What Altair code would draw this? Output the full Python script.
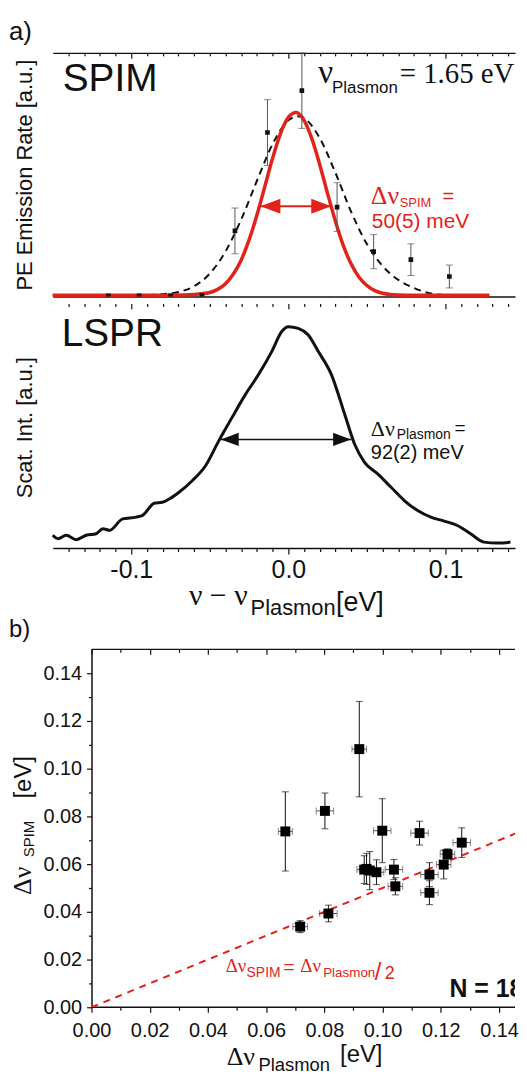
import altair as alt
import pandas as pd

SANS = "Liberation Sans"
SERIF = "Liberation Serif"
RED = "#e2231a"
INK = "#111111"
GREY = "#555555"

# ---------------- panel a : SPIM ----------------
spim_x = [-0.1146, -0.0950, -0.0750, -0.0550, -0.0340, -0.0133, 0.0086, 0.0310, 0.0543, 0.0780, 0.1025]
spim_y = [0.003, 0.003, 0.003, 0.005, 0.269, 0.673, 0.845, 0.367, 0.184, 0.151, 0.082]
spim_err = [0.0, 0.0, 0.0, 0.0, 0.094, 0.135, 0.155, 0.100, 0.070, 0.065, 0.047]

red_x = [-0.150, -0.100, -0.080, -0.070, -0.060, -0.050, -0.045, -0.040, -0.035, -0.030, -0.025,
         -0.020, -0.015, -0.010, -0.005, 0.000, 0.005, 0.010, 0.015, 0.020, 0.025, 0.030, 0.035,
         0.040, 0.045, 0.050, 0.055, 0.060, 0.065, 0.070, 0.080, 0.100, 0.128]
red_y = [0.005, 0.005, 0.005, 0.006, 0.008, 0.016, 0.029, 0.052, 0.092, 0.150, 0.232,
         0.334, 0.451, 0.568, 0.669, 0.735, 0.755, 0.723, 0.647, 0.541, 0.422, 0.308, 0.209,
         0.133, 0.079, 0.045, 0.024, 0.013, 0.008, 0.006, 0.005, 0.005, 0.005]

dash_x = [-0.150, -0.110, -0.090, -0.080, -0.070, -0.060, -0.050, -0.040, -0.030, -0.020, -0.010,
          0.000, 0.006, 0.010, 0.020, 0.030, 0.040, 0.050, 0.060, 0.070, 0.080, 0.090, 0.100, 0.110]
dash_y = [0.005, 0.005, 0.006, 0.009, 0.018, 0.042, 0.094, 0.185, 0.316, 0.475, 0.626,
          0.723, 0.740, 0.732, 0.650, 0.507, 0.347, 0.215, 0.125, 0.068, 0.035, 0.013, 0.006, 0.005]

spim_arrow_x = [-0.0177, 0.0272]
spim_arrow_y = 0.370
spim_head_x = [-0.0114, 0.0209]

# ---------------- panel a : LSPR ----------------
lspr_x = [-0.1500, -0.1466, -0.1414, -0.1350, -0.1287, -0.1224, -0.1181, -0.1139, -0.1055, -0.0970,
          -0.0928, -0.0854, -0.0802, -0.0759, -0.0696, -0.0612, -0.0527, -0.0443, -0.0359, -0.0274,
          -0.0190, -0.0105, -0.0042, 0.0000, 0.0063, 0.0127, 0.0190, 0.0274, 0.0359, 0.0422,
          0.0485, 0.0570, 0.0654, 0.0738, 0.0823, 0.0907, 0.0992, 0.1076, 0.1160, 0.1245,
          0.1329, 0.1414, 0.1473]
lspr_y = [0.052, 0.038, 0.052, 0.034, 0.052, 0.058, 0.079, 0.072, 0.119, 0.126,
          0.133, 0.183, 0.187, 0.200, 0.228, 0.275, 0.336, 0.438, 0.533, 0.627,
          0.709, 0.804, 0.885, 0.905, 0.898, 0.871, 0.804, 0.709, 0.546, 0.424,
          0.350, 0.302, 0.248, 0.194, 0.153, 0.126, 0.110, 0.092, 0.058, 0.024,
          0.020, 0.024, 0.027]

lspr_arrow_x = [-0.0432, 0.0400]
lspr_arrow_y = 0.444
lspr_head_x = [-0.0373, 0.0342]

a_major = [-0.1, 0.0, 0.1]
a_minor = [-0.14, -0.13, -0.12, -0.11, -0.09, -0.08, -0.07, -0.06, -0.05, -0.04, -0.03, -0.02, -0.01,
           0.01, 0.02, 0.03, 0.04, 0.05, 0.06, 0.07, 0.08, 0.09, 0.11, 0.12, 0.13, 0.14]

# ---------------- panel b ----------------
b_x = [0.0666, 0.0802, 0.0920, 0.0999, 0.1127, 0.1272, 0.1223, 0.1210, 0.1161,
       0.1161, 0.1039, 0.1044, 0.0979, 0.0937, 0.0956, 0.0945, 0.0717, 0.0814]
b_y = [0.0737, 0.0823, 0.1082, 0.0740, 0.0730, 0.0690, 0.0642, 0.0598, 0.0556,
       0.0480, 0.0577, 0.0507, 0.0566, 0.0577, 0.0573, 0.0580, 0.0338, 0.0393]
b_yerr = [0.0166, 0.0075, 0.0200, 0.0134, 0.0050, 0.0062, 0.0022, 0.0060, 0.0050,
          0.0050, 0.0042, 0.0036, 0.0052, 0.0058, 0.0080, 0.0065, 0.0025, 0.0035]
b_xerr = [0.0024, 0.0030, 0.0025, 0.0030, 0.0030, 0.0030, 0.0025, 0.0025, 0.0030,
          0.0030, 0.0030, 0.0025, 0.0025, 0.0025, 0.0025, 0.0025, 0.0025, 0.0030]
half_x = [0.0, 0.148]
half_y = [0.0, 0.074]

b_major = [0.00, 0.02, 0.04, 0.06, 0.08, 0.10, 0.12, 0.14]
b_minor = [0.01, 0.03, 0.05, 0.07, 0.09, 0.11, 0.13]

# ---------------- scales / layout ----------------
# vconcat aligns the plot origins of its panels; panel b's frame starts 39 px to the right
# of panel a's, so panel b's x domain begins slightly below zero and its frame starts at 0.
A_W, SPIM_H, LSPR_H = 465, 245, 246
B_W, B_H = 465, 360
A_MAX = 0.1443
B_MIN, B_MAX = -0.0133, 0.1455
B_SHIFT = 39
A_X = alt.Scale(domain=[-0.15, A_MAX], nice=False, zero=False)
U_Y = alt.Scale(domain=[0, 1], nice=False, zero=False)
B_X = alt.Scale(domain=[B_MIN, B_MAX], nice=False, zero=False)
B_Y = alt.Scale(domain=[0, 0.15], nice=False, zero=False)

LEFT_HEAD = "M-1,0L1,-0.75L1,0.75Z"
RIGHT_HEAD = "M1,0L-1,-0.75L-1,0.75Z"


def ax(orient, values=None, tick=0.0, offset=0.0, domain=False, labels=False,
       size=20, pad=4, fmt=None, expr=None):
    kw = dict(orient=orient, grid=False, title=None, domain=domain, labels=labels, ticks=tick > 0)
    if values is not None:
        kw["values"] = values
    if tick > 0:
        kw.update(tickSize=tick, tickColor=INK, tickWidth=1.2)
    if offset:
        kw["offset"] = offset
    if domain:
        kw.update(domainColor=INK, domainWidth=1.5)
    if labels:
        kw.update(labelFont=SANS, labelFontSize=size, labelColor=INK, labelPadding=pad,
                  labelFlush=False, labelOverlap=False)
        if fmt:
            kw["format"] = fmt
        if expr:
            kw["labelExpr"] = expr
    return alt.Axis(**kw)


def txt(s, x, y, size, font=SANS, color=INK, angle=0, align="left", weight="normal", clip=False):
    kw = dict(font=font, fontSize=size, color=color, align=align, baseline="alphabetic",
              fontWeight=weight, clip=clip)
    if angle:
        kw["angle"] = angle
    return alt.Chart(pd.DataFrame({"t": [s]})).mark_text(**kw).encode(
        text="t:N", x=alt.value(x), y=alt.value(y))


left_line = alt.Axis(orient="left", grid=False, title=None, labels=False, ticks=False,
                     domain=True, domainColor=INK, domainWidth=1.5)
neg_expr = "datum.value < 0 ? '-' + format(-datum.value, '.1f') : format(datum.value, '.1f')"

# ---------------- SPIM panel ----------------
spim_df = pd.DataFrame({"x": spim_x, "y": spim_y, "err": spim_err})
spim_df["lo"] = spim_df["y"] - spim_df["err"]
spim_df["hi"] = (spim_df["y"] + spim_df["err"]).clip(upper=1.0)
bars_df = spim_df[spim_df["err"] > 0]

red_df = pd.DataFrame({"x": red_x, "y": red_y})
dash_df = pd.DataFrame({"x": dash_x, "y": dash_y})
sarr_df = pd.DataFrame({"x": [spim_arrow_x[0]], "x2": [spim_arrow_x[1]], "y": [spim_arrow_y]})
shead_df = pd.DataFrame({"x": spim_head_x, "y": [spim_arrow_y] * 2, "s": [LEFT_HEAD, RIGHT_HEAD]})

dash_line = alt.Chart(dash_df).mark_line(color=INK, strokeWidth=2, strokeDash=[7, 5],
                                          interpolate="monotone").encode(
    x=alt.X("x:Q", scale=A_X, axis=ax("top", domain=True)),
    y=alt.Y("y:Q", scale=U_Y, axis=None))
red_line = alt.Chart(red_df).mark_line(color=RED, strokeWidth=3.5, interpolate="monotone").encode(
    x=alt.X("x:Q", scale=A_X, axis=ax("bottom", domain=True)),
    y=alt.Y("y:Q", scale=U_Y, axis=left_line))
err_rule = alt.Chart(bars_df).mark_rule(color=GREY, strokeWidth=1).encode(
    x=alt.X("x:Q", scale=A_X, axis=ax("top", a_major, tick=5.5, offset=-5.5)),
    y=alt.Y("lo:Q", scale=U_Y, axis=None), y2="hi:Q")
cap_lo = alt.Chart(bars_df).mark_tick(color=GREY, orient="horizontal", size=7, thickness=1).encode(
    x=alt.X("x:Q", scale=A_X, axis=ax("top", a_minor, tick=3, offset=-3)),
    y=alt.Y("lo:Q", scale=U_Y, axis=None))
cap_hi = alt.Chart(bars_df).mark_tick(color=GREY, orient="horizontal", size=7, thickness=1).encode(
    x=alt.X("x:Q", scale=A_X, axis=None), y=alt.Y("hi:Q", scale=U_Y, axis=None))
spim_pts = alt.Chart(spim_df).mark_square(color=INK, size=22, opacity=1, clip=True).encode(
    x=alt.X("x:Q", scale=A_X, axis=None), y=alt.Y("y:Q", scale=U_Y, axis=None))
s_arrow = alt.Chart(sarr_df).mark_rule(color=RED, strokeWidth=2).encode(
    x=alt.X("x:Q", scale=A_X, axis=None), x2="x2:Q", y=alt.Y("y:Q", scale=U_Y, axis=None))
s_heads = alt.Chart(shead_df).mark_point(filled=True, color=RED, size=400, opacity=1, strokeWidth=0).encode(
    x=alt.X("x:Q", scale=A_X, axis=None), y=alt.Y("y:Q", scale=U_Y, axis=None),
    shape=alt.Shape("s:N", scale=None))

spim = alt.layer(
    dash_line, red_line, err_rule, cap_lo, cap_hi, spim_pts, s_arrow, s_heads,
    txt("a)", -44, -13, 26),
    txt("PE Emission Rate [a.u.]", -21, 123, 22, angle=270, align="center"),
    txt("SPIM", 10, 38, 39),
    txt("ν", 267, 30, 33, font=SERIF),
    txt("Plasmon", 281, 40, 17),
    txt("= 1.65 eV", 349, 30, 29, font=SERIF, clip=True),
    txt("Δν", 320, 152, 26, font=SERIF, color=RED),
    txt("SPIM", 349, 155, 13, color=RED),
    txt("=", 392, 151, 20, color=RED),
    txt("50(5) meV", 321, 176, 21, color=RED),
).properties(width=A_W, height=SPIM_H).resolve_axis(x="independent")

# ---------------- LSPR panel ----------------
lspr_df = pd.DataFrame({"x": lspr_x, "y": lspr_y})
larr_df = pd.DataFrame({"x": [lspr_arrow_x[0]], "x2": [lspr_arrow_x[1]], "y": [lspr_arrow_y]})
lhead_df = pd.DataFrame({"x": lspr_head_x, "y": [lspr_arrow_y] * 2, "s": [LEFT_HEAD, RIGHT_HEAD]})

l_curve = alt.Chart(lspr_df).transform_filter(alt.datum.x <= A_MAX).mark_line(
    color=INK, strokeWidth=3, interpolate="monotone").encode(
    x=alt.X("x:Q", scale=A_X, axis=ax("bottom", a_major, tick=6, domain=True, labels=True,
                                     size=25, pad=4, expr=neg_expr)),
    y=alt.Y("y:Q", scale=U_Y, axis=left_line))
l_arrow = alt.Chart(larr_df).mark_rule(color=INK, strokeWidth=1.5).encode(
    x=alt.X("x:Q", scale=A_X, axis=ax("bottom", a_minor, tick=3.5)), x2="x2:Q",
    y=alt.Y("y:Q", scale=U_Y, axis=None))
l_heads = alt.Chart(lhead_df).mark_point(filled=True, color=INK, size=324, opacity=1, strokeWidth=0).encode(
    x=alt.X("x:Q", scale=A_X, axis=ax("top", a_major, tick=5.5, offset=-5.5)),
    y=alt.Y("y:Q", scale=U_Y, axis=None), shape=alt.Shape("s:N", scale=None))
l_ghost = alt.Chart(lhead_df).mark_point(opacity=0).encode(
    x=alt.X("x:Q", scale=A_X, axis=ax("top", a_minor, tick=3, offset=-3)),
    y=alt.Y("y:Q", scale=U_Y, axis=None))

lspr = alt.layer(
    l_curve, l_arrow, l_heads, l_ghost,
    txt("Scat. Int. [a.u.]", -21, 125, 22, angle=270, align="center"),
    txt("LSPR", 9, 43, 39),
    txt("Δν", 320, 133, 22, font=SERIF),
    txt("Plasmon", 346, 136, 14),
    txt("=", 404, 131, 19),
    txt("92(2) meV", 320, 157, 20),
    txt("ν − ν", 137, 303, 30, font=SERIF),
    txt("Plasmon", 199, 313, 22),
    txt("[eV]", 285, 309, 27),
).properties(width=A_W, height=LSPR_H).resolve_axis(x="independent")

# ---------------- panel b ----------------
b_df = pd.DataFrame({"x": b_x, "y": b_y, "xe": b_xerr, "ye": b_yerr})
b_df["ylo"] = b_df["y"] - b_df["ye"]
b_df["yhi"] = b_df["y"] + b_df["ye"]
b_df["xlo"] = b_df["x"] - b_df["xe"]
b_df["xhi"] = b_df["x"] + b_df["xe"]
half_df = pd.DataFrame({"x": half_x, "y": half_y})
frame_df = pd.DataFrame({"x": [0.0, 0.0], "x2": [B_MAX, B_MAX], "y": [0.0, 0.15]})

b_frame = alt.Chart(frame_df).mark_rule(color=INK, strokeWidth=1.5).encode(
    x=alt.X("x:Q", scale=B_X, axis=ax("bottom", b_major, tick=5, labels=True,
                                     size=20, pad=8, fmt=".2f")),
    x2="x2:Q",
    y=alt.Y("y:Q", scale=B_Y, axis=ax("left", b_major, tick=5, domain=True, labels=True,
                                     size=20, pad=5, fmt=".2f", offset=-B_SHIFT)))
b_half = alt.Chart(half_df).mark_line(color=RED, strokeWidth=2, strokeDash=[7, 6], clip=True).encode(
    x=alt.X("x:Q", scale=B_X, axis=ax("bottom", b_minor, tick=3)),
    y=alt.Y("y:Q", scale=B_Y, axis=ax("left", b_minor, tick=3, offset=-B_SHIFT)))
b_vrule = alt.Chart(b_df).mark_rule(color=INK, strokeWidth=1).encode(
    x=alt.X("x:Q", scale=B_X, axis=ax("top", b_major, tick=5, offset=-5)),
    y=alt.Y("ylo:Q", scale=B_Y, axis=None), y2="yhi:Q")
b_hrule = alt.Chart(b_df).mark_rule(color=GREY, strokeWidth=1).encode(
    x=alt.X("xlo:Q", scale=B_X, axis=ax("top", b_minor, tick=3, offset=-3)), x2="xhi:Q",
    y=alt.Y("y:Q", scale=B_Y, axis=None))
b_vcap_lo = alt.Chart(b_df).mark_tick(color=INK, orient="horizontal", size=7, thickness=1).encode(
    x=alt.X("x:Q", scale=B_X, axis=None), y=alt.Y("ylo:Q", scale=B_Y, axis=None))
b_vcap_hi = alt.Chart(b_df).mark_tick(color=INK, orient="horizontal", size=7, thickness=1).encode(
    x=alt.X("x:Q", scale=B_X, axis=None), y=alt.Y("yhi:Q", scale=B_Y, axis=None))
b_hcap_lo = alt.Chart(b_df).mark_tick(color=GREY, orient="vertical", size=7, thickness=1).encode(
    x=alt.X("xlo:Q", scale=B_X, axis=None), y=alt.Y("y:Q", scale=B_Y, axis=None))
b_hcap_hi = alt.Chart(b_df).mark_tick(color=GREY, orient="vertical", size=7, thickness=1).encode(
    x=alt.X("xhi:Q", scale=B_X, axis=None), y=alt.Y("y:Q", scale=B_Y, axis=None))
b_pts = alt.Chart(b_df).mark_square(color="#000000", size=100, opacity=1).encode(
    x=alt.X("x:Q", scale=B_X, axis=None), y=alt.Y("y:Q", scale=B_Y, axis=None))

P = B_SHIFT
panel_b = alt.layer(
    b_frame, b_half, b_vrule, b_hrule, b_vcap_lo, b_vcap_hi, b_hcap_lo, b_hcap_hi, b_pts,
    txt("b)", -44, -12, 24),
    txt("N = 18", 360 + P, 350, 25, weight="bold", clip=True),
    txt("Δν", 135 + P, 325, 19, font=SERIF, color=RED),
    txt("SPIM", 156 + P, 330, 14, color=RED),
    txt("=", 193 + P, 326, 19, color=RED),
    txt("Δν", 210 + P, 325, 19, font=SERIF, color=RED),
    txt("Plasmon", 233 + P, 330, 13.5, color=RED),
    txt("/", 285 + P, 333, 24, color=RED),
    txt("2", 295 + P, 332, 18, color=RED),
    txt("Δν", 136 + P, 418, 26, font=SERIF),
    txt("Plasmon", 168 + P, 424, 18.5),
    txt("[eV]", 250 + P, 415, 24),
    txt("Δν", -61 + P, 247, 26, font=SERIF, angle=270),
    txt("SPIM", -58 + P, 209, 15, angle=270),
    txt("[eV]", -61 + P, 150, 24, angle=270),
).properties(width=B_W, height=B_H).resolve_axis(x="independent", y="independent")

a_block = alt.vconcat(spim, lspr, spacing=0)
chart = alt.vconcat(a_block, panel_b, spacing=0).properties(
    padding={"left": 1, "top": 8, "right": 0, "bottom": 0}
).configure_view(strokeWidth=0)

chart.save("out.html", embed_options={"renderer": "svg", "actions": False})
